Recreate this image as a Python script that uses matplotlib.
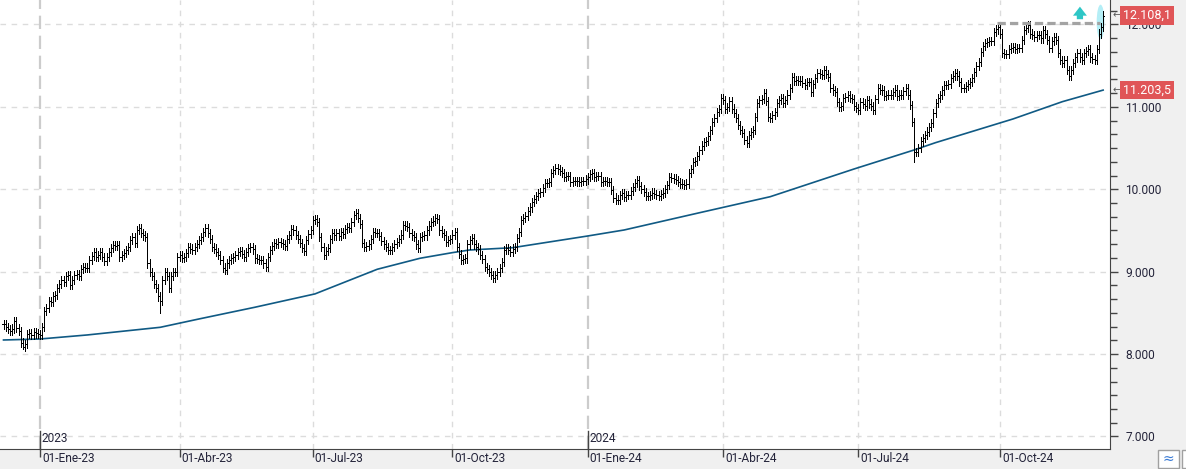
import numpy as np
import pandas as pd
import matplotlib
matplotlib.use('Agg')
import matplotlib.pyplot as plt
import matplotlib.transforms as mtrans
from matplotlib.patches import Ellipse, Rectangle
from matplotlib.ticker import FixedLocator, AutoMinorLocator

# data ===========================================================
# daily closes (Dec-2022 .. Dec-2024)
closes = [
    8360, 8330, 8300, 8280, 8310, 8400, 8320, 8280, 8140, 8090,
    8120, 8240, 8260, 8230, 8270, 8250, 8240, 8230, 8330, 8520,
    8560, 8640, 8630, 8700, 8717, 8800, 8850, 8900, 8880, 8950,
    8960, 8840, 8900, 8960, 8970, 8950, 9030, 9061, 9040, 9050,
    9142, 9190, 9243, 9182, 9200, 9243, 9180, 9130, 9180, 9243,
    9290, 9324, 9310, 9324, 9175, 9200, 9223, 9260, 9304, 9380,
    9425, 9348, 9506, 9530, 9466, 9440, 9425, 9100, 9000, 8950,
    8850, 8800, 8700, 8650, 8900, 9000, 8950, 8800, 8950, 9000,
    9000, 9180, 9200, 9170, 9180, 9230, 9300, 9280, 9260, 9300,
    9340, 9385, 9420, 9480, 9530, 9470, 9400, 9300, 9280, 9240,
    9200, 9140, 9050, 9020, 9100, 9140, 9160, 9180, 9200, 9240,
    9250, 9210, 9180, 9240, 9290, 9300, 9270, 9160, 9150, 9140,
    9140, 9100, 9060, 9180, 9265, 9310, 9350, 9340, 9360, 9350,
    9330, 9310, 9400, 9445, 9520, 9500, 9445, 9400, 9350, 9290,
    9250, 9380, 9460, 9506, 9630, 9640, 9600, 9420, 9300, 9200,
    9250, 9290, 9400, 9466, 9440, 9466, 9430, 9480, 9460, 9520,
    9545, 9530, 9600, 9690, 9715, 9650, 9580, 9350, 9300, 9310,
    9330, 9400, 9480, 9470, 9466, 9430, 9370, 9330, 9300, 9265,
    9265, 9300, 9340, 9360, 9400, 9450, 9570, 9560, 9545, 9466,
    9440, 9420, 9330, 9290, 9420, 9430, 9440, 9500, 9560, 9600,
    9620, 9650, 9640, 9500, 9470, 9440, 9360, 9380, 9400, 9450,
    9480, 9300, 9210, 9140, 9150, 9160, 9330, 9380, 9410, 9330,
    9300, 9270, 9200, 9150, 9060, 9030, 9000, 8960, 8920, 8960,
    9000, 9045, 9120, 9265, 9290, 9260, 9240, 9280, 9300, 9410,
    9480, 9630, 9650, 9680, 9740, 9780, 9850, 9880, 9920, 9955,
    9970, 10020, 10075, 10080, 10090, 10195, 10230, 10255, 10240, 10220,
    10195, 10150, 10160, 10165, 10090, 10100, 10105, 10095, 10090, 10105,
    10105, 10120, 10150, 10180, 10195, 10150, 10160, 10165, 10090, 10100,
    10105, 10090, 10090, 9990, 9900, 9870, 9875, 9930, 9955, 9910,
    9930, 9930, 9980, 10030, 10080, 10110, 10040, 10000, 9970, 9920,
    9920, 9930, 9960, 9940, 9930, 9920, 9940, 9960, 10000, 10050,
    10150, 10140, 10130, 10110, 10090, 10070, 10060, 10050, 10070, 10195,
    10250, 10330, 10345, 10400, 10475, 10530, 10575, 10590, 10650, 10720,
    10820, 10865, 10940, 10970, 11110, 11080, 10975, 11000, 11070, 10980,
    10925, 10865, 10780, 10720, 10680, 10600, 10560, 10660, 10690, 10720,
    10880, 11050, 11085, 11100, 11170, 11070, 10880, 10865, 10900, 10940,
    11050, 11085, 11110, 11045, 11080, 11150, 11230, 11360, 11320, 11330,
    11320, 11320, 11290, 11265, 11300, 11300, 11180, 11280, 11350, 11410,
    11400, 11390, 11450, 11400, 11360, 11225, 11200, 11180, 11060, 11000,
    11010, 11110, 11120, 11140, 11110, 11100, 11010, 10990, 10960, 11060,
    11040, 11010, 11080, 11040, 11010, 10960, 11100, 11230, 11210, 11200,
    11130, 11140, 11150, 11150, 11180, 11210, 11130, 11150, 11150, 11190,
    11230, 11150, 11020, 10815, 10450, 10450, 10500, 10580, 10620, 10660,
    10700, 10760, 10800, 10930, 11045, 11110, 11140, 11200, 11265, 11270,
    11280, 11350, 11380, 11410, 11380, 11300, 11230, 11230, 11250, 11280,
    11300, 11350, 11420, 11500, 11545, 11665, 11740, 11775, 11790, 11800,
    11800, 11910, 11940, 11970, 11890, 11650, 11640, 11640, 11700, 11720,
    11730, 11700, 11710, 11715, 11810, 11930, 11960, 11990, 11890, 11870,
    11850, 11870, 11870, 11830, 11930, 11880, 11810, 11715, 11800, 11850,
    11810, 11650, 11570, 11530, 11570, 11450, 11380, 11450, 11530, 11600,
    11650, 11600, 11570, 11650, 11680, 11700, 11600, 11580, 11570, 11700,
    11890, 11970, 12108.1,
]
# a few long lower shadows
spike_lows = {9: 8060, 73: 8500, 424: 10330}

# 200-session moving average, read at some bars
ma_idx = [0, 17, 39, 73, 91, 117, 145, 174, 194, 209, 217, 237, 272, 289,
          324, 357, 396, 424, 434, 470, 493, 512]
ma_val = [8171, 8183, 8232, 8325, 8426, 8568, 8730, 9029, 9163, 9231, 9263,
          9291, 9433, 9506, 9715, 9910, 10246, 10477, 10566, 10853, 11063,
          11203.5]

last_close = 12108.1
last_ma = 11203.5
resist_level = 12015
resist_from, resist_to = 462.5, 510.5

holidays = ['2022-12-26', '2023-04-07', '2023-04-10', '2023-05-01',
            '2023-12-25', '2023-12-26', '2024-01-01', '2024-03-29',
            '2024-04-01', '2024-05-01']
end_date = '2024-12-06'
quarter_dates = ['2023-01-01', '2023-04-01', '2023-07-01', '2023-10-01',
                 '2024-01-01', '2024-04-01', '2024-07-01', '2024-10-01']
quarter_labels = ['01-Ene-23', '01-Abr-23', '01-Jul-23', '01-Oct-23',
                  '01-Ene-24', '01-Abr-24', '01-Jul-24', '01-Oct-24']
year_labels = ['2023', '2024']
yticks = [7000, 8000, 9000, 10000, 11000, 12000]
#=================================================================

plt.rcParams['font.family'] = ['Roboto', 'DejaVu Sans']
TXT = '#24243a'
AX = '#444444'
FS = 8.6

def es_num(v, dec=0):
    s = f'{v:,.{dec}f}'
    return s.replace(',', 'X').replace('.', ',').replace('X', '.')

cbd = pd.offsets.CustomBusinessDay(holidays=holidays)
dates = pd.date_range(end=end_date, periods=len(closes), freq=cbd)
q_pos = [int(dates.searchsorted(pd.Timestamp(d))) for d in quarter_dates]
year_pos = [q_pos[0], q_pos[4]]

c = np.array(closes, dtype=float)
x = np.arange(len(c))
o = np.r_[c[0], c[:-1]]
wick = 50
hi = np.maximum(o, c) + wick
lo = np.minimum(o, c) - wick
for k, v in spike_lows.items():
    lo[k] = v

W, H = 1186, 469
fig = plt.figure(figsize=(W / 100, H / 100), dpi=100, facecolor='#f0f0f0')
ax = fig.add_axes([0, 20 / H, 1110 / W, 449 / H])
ax.set_facecolor('white')

ax.set_xlim(-1.63, 515.2)
ax.set_ylim(6848, 12297)

# grid
for v in yticks:
    ax.axhline(v, color='#dcdcdc', lw=1, ls=(0, (4, 4)), zorder=0)
for p in q_pos:
    if p in year_pos:
        ax.axvline(p, color='#cccccc', lw=1.6, ls=(0, (6, 3)), zorder=0)
    else:
        ax.axvline(p, color='#dcdcdc', lw=1, ls=(0, (4, 4)), zorder=0)

# highlight of the last bars
ax.add_patch(Ellipse((510.8, 12030), 3.6, 420, fc='#b4eef6', ec='none', zorder=1))

# OHLC bars (1 px lines)
px = 0.72
ax.vlines(x, lo, hi, color='black', lw=px, zorder=3, antialiased=False)
ax.hlines(o, x - 0.5, x, color='black', lw=px, zorder=3, antialiased=False)
ax.hlines(c, x, x + 0.5, color='black', lw=px, zorder=3, antialiased=False)

# moving average
ax.plot(ma_idx, ma_val, color='#105a84', lw=1.2, zorder=2)

# resistance line and arrow
ax.hlines(resist_level, resist_from, resist_to, color='#a3a3a3', lw=2.3,
          linestyles=(0, (2.6, 1.3)), zorder=4)
ax.annotate('', xy=(501.2, 12250), xytext=(501.2, 12030),
            arrowprops=dict(arrowstyle='simple,head_width=1.0,head_length=0.65,tail_width=0.45',
                            color='#2ec6c6', mutation_scale=10, lw=0), zorder=5)

# axes look
for s in ['left', 'top']:
    ax.spines[s].set_visible(False)
ax.spines['right'].set_color(AX)
ax.spines['bottom'].set_color(AX)

ax.yaxis.tick_right()
ax.yaxis.set_major_locator(FixedLocator(yticks))
ax.yaxis.set_minor_locator(AutoMinorLocator(6))
ax.set_yticklabels([es_num(v) for v in yticks])
ax.tick_params(axis='y', which='major', length=6, width=1, color=AX,
               labelcolor=TXT, labelsize=FS, pad=5)
ax.tick_params(axis='y', which='minor', length=5, width=1, color=AX)

ax.set_xticks(q_pos)
ax.set_xticklabels(quarter_labels, ha='left')
ax.tick_params(axis='x', length=6, width=1, color=AX,
               labelcolor=TXT, labelsize=FS, pad=-3.6)
shift = mtrans.ScaledTranslation(2 / 100, 0, fig.dpi_scale_trans)
for lab in ax.get_xticklabels():
    lab.set_transform(lab.get_transform() + shift)

# year marks
bt = mtrans.blended_transform_factory(ax.transData, ax.transAxes)
for p, lab in zip(year_pos, year_labels):
    ax.plot([p, p], [0, 0.04], color=AX, lw=1, transform=bt, clip_on=False, zorder=6)
    ax.text(p + 0.7, 0.008, lab, transform=bt, ha='left', va='bottom',
            fontsize=FS, color=TXT, zorder=6)

# value labels on the right
rt = mtrans.blended_transform_factory(ax.transAxes, ax.transData)
for v, txt in [(last_close, es_num(last_close, 1)), (last_ma, es_num(last_ma, 1))]:
    ax.text(1.0025, v, '\u2190', transform=rt, ha='left', va='center',
            fontsize=7, color='#555555', clip_on=False, family='DejaVu Sans')
    ax.text(1.0115, v, txt, transform=rt, ha='left', va='center', fontsize=9,
            color='white', clip_on=False, zorder=7,
            bbox=dict(boxstyle='square,pad=0.22', fc='#e05557', ec='none'))

# small corner buttons
fig.add_artist(Rectangle((1158 / W, 1 / H), 21 / W, 18 / H, transform=fig.transFigure,
                         fc='white', ec='#a0a0a0', lw=1))
fig.text(1168.5 / W, 10 / H, '\u2248', ha='center', va='center', fontsize=10,
         color='#3a7bd5', family='DejaVu Sans')
fig.add_artist(Rectangle((1182 / W, 1 / H), 10 / W, 18 / H, transform=fig.transFigure,
                         fc='white', ec='#a0a0a0', lw=1))

fig.savefig('out.png', dpi=100, facecolor=fig.get_facecolor())
